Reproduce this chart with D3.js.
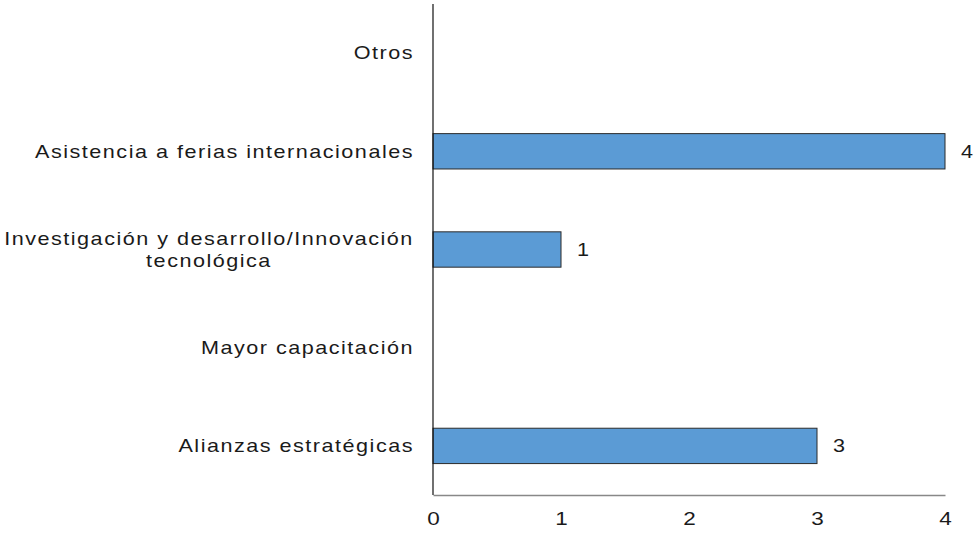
<!DOCTYPE html>
<html>
<head>
<meta charset="utf-8">
<script src="https://cdn.jsdelivr.net/npm/d3@7"></script>
<style>
  body { margin: 0; background: #fff; }
  text { font-family: "Liberation Sans", Arial, sans-serif; fill: #1a1a1a; }
</style>
</head>
<body>
<svg></svg>
<script>
// Horizontal bar chart, categories top to bottom
const categories = [
  "Otros",
  "Asistencia a ferias internacionales",
  "Investigación y desarrollo/Innovación tecnológica",
  "Mayor capacitación",
  "Alianzas estratégicas"
];
const values = [0, 4, 1, 0, 3];
const xTicks = [0, 1, 2, 3, 4];

const width = 975;
const height = 537;
const margin = { top: 4, right: 30, bottom: 42, left: 433 };
const fontSize = 18;
const stretch = 1.2; // the text in the source is drawn a bit wide
const spacing = "1.25px";

const svg = d3.select("svg").attr("width", width).attr("height", height);

const x = d3.scaleLinear()
  .domain([0, 4])
  .range([margin.left, margin.left + 512]);

const y = d3.scaleBand()
  .domain(categories)
  .range([margin.top, height - margin.bottom])
  .paddingInner(0.64)
  .paddingOuter(0.32);

const rows = categories.map((c, i) => ({ c, v: values[i] })).filter(d => d.v > 0);

// helper: wide text placed at (px, py)
const wideText = (parent, px, py, anchor) =>
  parent.append("g")
    .attr("transform", `translate(${px},${py}) scale(${stretch},1)`)
    .append("text")
    .attr("text-anchor", anchor)
    .attr("font-size", fontSize)
    .style("letter-spacing", spacing);

// bars
svg.append("g")
  .selectAll("rect")
  .data(rows)
  .enter()
  .append("rect")
  .attr("x", x(0))
  .attr("y", d => y(d.c))
  .attr("width", d => x(d.v) - x(0))
  .attr("height", y.bandwidth())
  .attr("fill", "#5b9bd5")
  .attr("stroke", "#2b2b2b")
  .attr("stroke-width", 1);

// value labels
const valG = svg.append("g");
rows.forEach((d) => {
  wideText(valG, x(d.v) + 16, y(d.c) + y.bandwidth() / 2, "start")
    .attr("dy", "0.35em")
    .text(d.v);
});

// x axis (line + labels, no ticks)
const xAxis = svg.append("g")
  .attr("transform", "translate(0," + (height - margin.bottom) + ")")
  .call(d3.axisBottom(x).tickValues(xTicks).tickFormat(d3.format("d")).tickSize(0).tickPadding(17));
xAxis.select(".domain").attr("stroke", "#888").attr("stroke-width", 1.5);
xAxis.selectAll(".tick text")
  .attr("font-size", fontSize).attr("fill", "#1a1a1a")
  .attr("transform", `scale(1.25,1)`)
  .style("font-family", '"Liberation Sans", Arial, sans-serif');

// y axis line
svg.append("line")
  .attr("x1", x(0)).attr("x2", x(0))
  .attr("y1", margin.top).attr("y2", height - margin.bottom)
  .attr("stroke", "#111")
  .attr("stroke-width", 1.2);

// category labels, wrap long one
const labelG = svg.append("g");
categories.forEach((c) => {
  const cy = y(c) + y.bandwidth() / 2;
  if (c.length > 40) {
    const lines = ["Investigación y desarrollo/Innovación", "tecnológica"];
    lines.forEach((l, k) => {
      wideText(labelG, 209, cy + (k - 0.5) * 22, "middle")
        .attr("dy", "0.35em")
        .text(l);
    });
  } else {
    wideText(labelG, 414, cy, "end")
      .attr("dy", "0.35em")
      .text(c);
  }
});
</script>
</body>
</html>
